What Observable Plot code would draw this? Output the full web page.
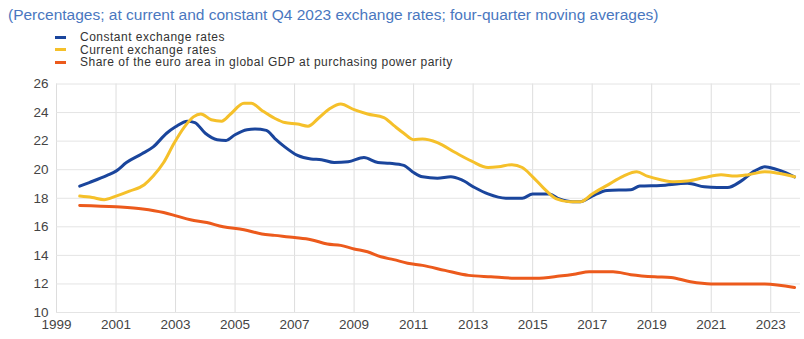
<!DOCTYPE html>
<html>
<head>
<meta charset="utf-8">
<script src="https://cdn.jsdelivr.net/npm/d3@7"></script>
<script src="https://cdn.jsdelivr.net/npm/@observablehq/plot@0.6"></script>
<style>
  body { margin: 0; background: #fff; font-family: "Liberation Sans", Arial, sans-serif; }
  #wrap { position: relative; width: 804px; height: 339px; overflow: hidden; }
  #title { position: absolute; left: 8px; top: 6px; font-size: 15.5px; line-height: 18px; color: #4a77c0; white-space: nowrap; }
  #legend { position: absolute; left: 55px; top: 31px; font-size: 12px; letter-spacing: 0.5px; color: #333; }
  .item { height: 12.5px; display: flex; align-items: center; white-space: nowrap; }
  .sw { width: 11px; height: 3px; margin-right: 14px; flex: none; }
  .lt { display: block; height: 12.5px; line-height: 12.5px; overflow: visible; }
  #chart { position: absolute; left: 0; top: 70px; }
</style>
</head>
<body>
<div id="wrap">
  <div id="title"></div>
  <div id="legend"></div>
  <div id="chart"></div>
</div>
<script>
const titleText = "(Percentages; at current and constant Q4 2023 exchange rates; four-quarter moving averages)";
const seriesNames = ["Constant exchange rates", "Current exchange rates", "Share of the euro area in global GDP at purchasing power parity"];
const seriesColors = ["#1a459c", "#f5c02a", "#ec5a1c"];
const xTicks = [1999, 2001, 2003, 2005, 2007, 2009, 2011, 2013, 2015, 2017, 2019, 2021, 2023];
const yTicks = [10, 12, 14, 16, 18, 20, 22, 24, 26];

const constantYears = [1999.78, 2000.1, 2000.7, 2001.0, 2001.35, 2001.86, 2002.25, 2002.7, 2003.0, 2003.4, 2003.65, 2004.0, 2004.4, 2004.7, 2005.0, 2005.4, 2005.67, 2006.05, 2006.33, 2006.67, 2007.1, 2007.55, 2007.9, 2008.33, 2008.8, 2009.33, 2009.8, 2010.2, 2010.67, 2011.0, 2011.3, 2011.8, 2012.25, 2012.6, 2013.05, 2013.5, 2014.1, 2014.65, 2015.0, 2015.55, 2015.9, 2016.35, 2016.6, 2017.0, 2017.5, 2018.3, 2018.6, 2019.3, 2020.2, 2020.77, 2021.2, 2021.55, 2022.0, 2022.45, 2022.8, 2023.15, 2023.5, 2023.8];
const constantValues = [18.85, 19.1, 19.6, 19.9, 20.5, 21.1, 21.6, 22.55, 23.0, 23.4, 23.3, 22.55, 22.1, 22.05, 22.45, 22.8, 22.85, 22.75, 22.2, 21.6, 21.0, 20.75, 20.7, 20.5, 20.55, 20.85, 20.5, 20.45, 20.3, 19.8, 19.5, 19.4, 19.5, 19.3, 18.75, 18.3, 18.0, 18.0, 18.3, 18.3, 17.95, 17.75, 17.75, 18.15, 18.55, 18.6, 18.85, 18.9, 19.05, 18.8, 18.75, 18.75, 19.2, 19.9, 20.2, 20.05, 19.8, 19.5];

const currentYears = [1999.78, 2000.2, 2000.6, 2001.0, 2001.45, 2001.95, 2002.25, 2002.6, 2002.95, 2003.3, 2003.6, 2003.85, 2004.2, 2004.55, 2004.85, 2005.3, 2005.55, 2005.9, 2006.33, 2006.67, 2007.1, 2007.45, 2007.8, 2008.2, 2008.55, 2009.0, 2009.45, 2010.0, 2010.33, 2010.67, 2011.0, 2011.3, 2011.8, 2012.4, 2012.95, 2013.5, 2013.85, 2014.3, 2014.65, 2015.0, 2015.35, 2015.8, 2016.25, 2016.6, 2017.0, 2017.5, 2018.05, 2018.5, 2018.85, 2019.3, 2019.75, 2020.2, 2020.77, 2021.33, 2021.8, 2022.25, 2022.8, 2023.25, 2023.8];
const currentValues = [18.15, 18.05, 17.9, 18.15, 18.5, 18.95, 19.55, 20.5, 21.85, 23.0, 23.7, 23.9, 23.5, 23.4, 23.9, 24.65, 24.65, 24.15, 23.6, 23.3, 23.2, 23.05, 23.6, 24.3, 24.6, 24.2, 23.9, 23.65, 23.1, 22.55, 22.1, 22.15, 21.9, 21.2, 20.6, 20.15, 20.2, 20.35, 20.15, 19.5, 18.75, 17.95, 17.75, 17.75, 18.3, 18.9, 19.55, 19.85, 19.55, 19.3, 19.15, 19.2, 19.45, 19.65, 19.55, 19.65, 19.85, 19.75, 19.5];

const pppYears = [1999.78, 2001.0, 2001.9, 2002.6, 2003.05, 2003.5, 2004.05, 2004.6, 2005.3, 2005.9, 2006.33, 2007.0, 2007.55, 2008.1, 2008.55, 2009.0, 2009.45, 2009.9, 2010.33, 2010.8, 2011.3, 2012.05, 2012.85, 2013.6, 2014.4, 2015.1, 2015.9, 2016.45, 2016.9, 2017.7, 2018.3, 2019.1, 2019.65, 2020.3, 2021.0, 2021.9, 2022.8, 2023.8];
const pppValues = [17.5, 17.4, 17.25, 17.0, 16.75, 16.5, 16.3, 16.0, 15.8, 15.5, 15.4, 15.25, 15.1, 14.8, 14.7, 14.45, 14.25, 13.9, 13.7, 13.45, 13.3, 12.95, 12.6, 12.5, 12.4, 12.4, 12.55, 12.7, 12.85, 12.85, 12.65, 12.5, 12.45, 12.15, 12.0, 12.0, 12.0, 11.75];

const allYears = [constantYears, currentYears, pppYears];
const allValues = [constantValues, currentValues, pppValues];
const data = allYears.flatMap((ys, i) => ys.map((x, j) => ({series: seriesNames[i], x, y: allValues[i][j]})));

document.getElementById("title").textContent = titleText;
const legend = document.getElementById("legend");
seriesNames.forEach((name, i) => {
  const row = document.createElement("div");
  row.className = "item";
  const sw = document.createElement("span");
  sw.className = "sw";
  sw.style.background = seriesColors[i];
  const t = document.createElement("span");
  t.className = "lt";
  t.textContent = name;
  row.appendChild(sw); row.appendChild(t);
  legend.appendChild(row);
});

const chart = Plot.plot({
  width: 804,
  height: 269,
  marginTop: 13.5,
  marginBottom: 27,
  marginLeft: 56,
  marginRight: 4,
  style: { fontFamily: "Liberation Sans, Arial, sans-serif", fontSize: "13px", color: "#444", background: "#fff" },
  x: { domain: [1999, 2024] },
  y: { domain: [10, 26] },
  color: { domain: seriesNames, range: seriesColors },
  marks: [
    Plot.gridX(xTicks, { stroke: "#dddddd", strokeOpacity: 1, strokeWidth: 1 }),
    Plot.gridY(yTicks, { stroke: "#e4e4e4", strokeOpacity: 1, strokeWidth: 1 }),
    Plot.axisY(yTicks, { tickSize: 0, tickPadding: 8, label: null, fill: "#444", fontSize: 13.5 }),
    Plot.axisX(xTicks, { tickSize: 0, tickPadding: 7, label: null, tickFormat: d => String(d), fill: "#444", fontSize: 13.5 }),
    Plot.line(data, { x: "x", y: "y", z: "series", stroke: "series", strokeWidth: 3, curve: "monotone-x" })
  ]
});
document.getElementById("chart").appendChild(chart);
</script>
</body>
</html>
